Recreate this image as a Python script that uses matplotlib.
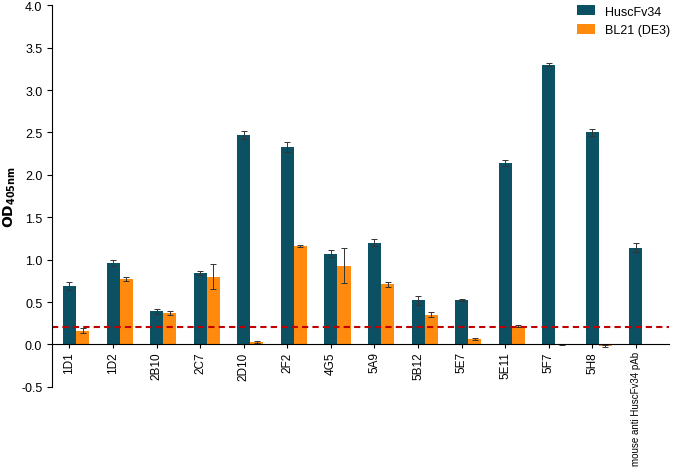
import matplotlib
matplotlib.use("Agg")
import matplotlib.pyplot as plt
import numpy as np
plt.rcParams["font.family"] = "Liberation Sans"

categories = ["1D1","1D2","2B10","2C7","2D10","2F2","4G5","5A9","5B12","5E7","5E11","5F7","5H8","mouse anti HuscFv34 pAb"]
husc = [0.69,0.96,0.39,0.84,2.47,2.33,1.07,1.20,0.52,0.52,2.14,3.30,2.50,1.14]
husc_err = [0.05,0.03,0.03,0.02,0.05,0.06,0.04,0.04,0.05,0.01,0.04,0.02,0.04,0.05]
bl21 = [0.16,0.77,0.37,0.80,0.03,1.16,0.93,0.71,0.35,0.06,0.22,0.00,-0.02,np.nan]
bl21_err = [0.03,0.02,0.02,0.15,0.01,0.01,0.21,0.03,0.03,0.01,0.01,0.005,0.01,np.nan]
cutoff = 0.2

fig = plt.figure(figsize=(6.85,4.77), dpi=100)
ax = fig.add_axes([0.076, 0.187, 0.90, 0.80])
x = np.arange(len(categories))
w = 0.3
ek = dict(ecolor="#333333", elinewidth=0.7, capsize=2.5, capthick=0.7)
ax.bar(x-w/2, husc, w, yerr=husc_err, color="#0b5063", label="HuscFv34", error_kw=ek)
ax.bar(x+w/2, bl21, w, yerr=bl21_err, color="#ff8a0d", label="BL21 (DE3)", error_kw=ek)
ax.axhline(cutoff, color="#c00000", ls="--", lw=1.5, dashes=(3,2))
ax.set_ylim(-0.5, 4.0)
ax.set_xlim(-0.55, len(categories)-0.4)
ax.spines["bottom"].set_position(("data", 0))
ax.spines["top"].set_visible(False)
ax.spines["right"].set_visible(False)
ax.set_yticks(np.arange(-0.5, 4.01, 0.5))
ax.set_yticklabels([f"{v:.1f}" for v in np.arange(-0.5,4.01,0.5)], fontsize=9)
ax.set_xticks(x-w/2)
ax.set_xticklabels(categories, fontsize=8.5)
plt.setp(ax.get_xticklabels(), rotation=90, va="top", ha="center")
ax.get_xticklabels()[-1].set_fontsize(7)
ax.tick_params(axis="x", length=3, pad=2)
ax.set_ylabel(r"$\mathbf{OD_{405nm}}$", fontsize=10, labelpad=2)
ax.legend(loc="upper right", frameon=False, fontsize=9, bbox_to_anchor=(1.02, 1.03),
          handlelength=1.4, handleheight=0.9)
fig.savefig("out.png", dpi=100)
